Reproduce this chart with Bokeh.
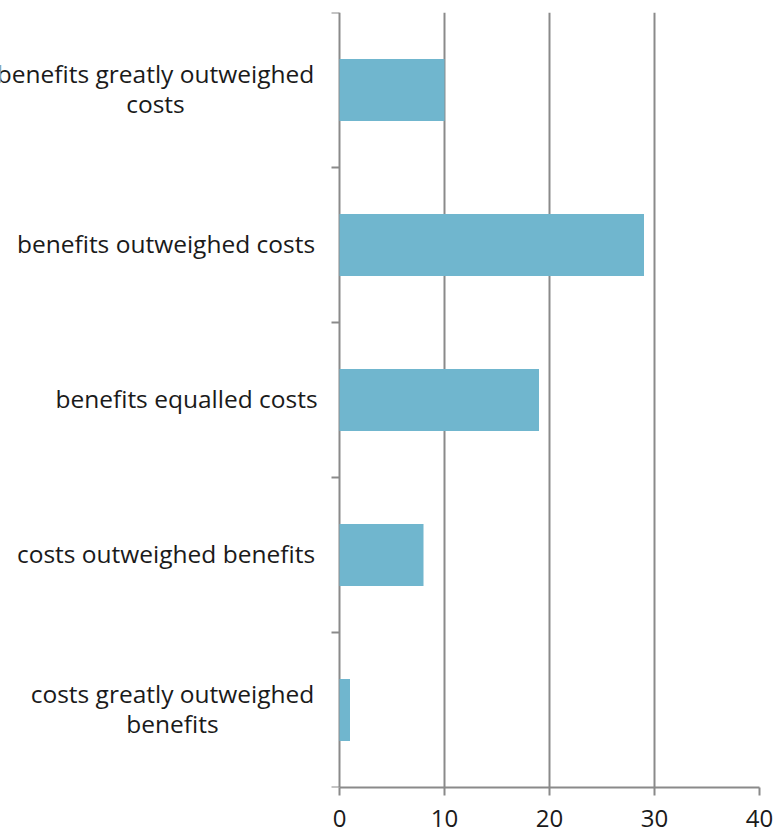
from math import pi
from bokeh.plotting import figure
from bokeh.models import FixedTicker, Range1d
from bokeh.embed import file_html
from bokeh.resources import INLINE
from bokeh.core.properties import value

# ---- data ----
categories = [
    "benefits greatly outweighed\ncosts",
    "benefits outweighed costs",
    "benefits equalled costs",
    "costs outweighed benefits",
    "costs greatly outweighed\nbenefits",
]
values = [10, 29, 19, 8, 1]
x_ticks = [0, 10, 20, 30, 40]

# ---- layout / style ----
FONT = "Open Sans"
GRAY = "#8a8a8a"
BAR = "#70b6ce"
TEXT = "#1a1a1a"
LABEL_AREA_PX = 339          # pixels left of the value axis reserved for category labels
FRAME_RIGHT_PX = 759
label_offsets_px = [-184, -173.5, -153, -173.5, -167]   # label centres relative to x=0

n = len(categories)
ys = [n - i - 0.5 for i in range(n)]
x_max = x_ticks[-1]
x_min = -x_max * LABEL_AREA_PX / (FRAME_RIGHT_PX - LABEL_AREA_PX)

p = figure(
    width=778, height=847,
    x_range=Range1d(x_min, x_max), y_range=Range1d(0, n),
    output_backend="svg", toolbar_location=None,
    min_border_left=0, min_border_right=778 - FRAME_RIGHT_PX, min_border_top=12, min_border_bottom=60,
)
p.outline_line_color = None
p.yaxis.visible = False
p.ygrid.grid_line_color = None

# vertical grid lines (the one at 0 doubles as the category axis line)
p.xgrid.ticker = FixedTicker(ticks=x_ticks)
p.xgrid.grid_line_color = GRAY
p.xgrid.grid_line_width = 2

p.hbar(y=ys, right=values, left=0, height=0.4, fill_color=BAR, line_color=None)

# category boundary tick marks
p.ray(x=[0] * (n + 1), y=list(range(n + 1)), length=8, length_units="screen",
      angle=pi, line_color=GRAY, line_width=2)

# x axis
p.xaxis.ticker = FixedTicker(ticks=x_ticks)
p.xaxis.bounds = (0, x_max)
p.xaxis.axis_line_color = GRAY
p.xaxis.axis_line_width = 2
p.xaxis.major_tick_line_color = GRAY
p.xaxis.major_tick_line_width = 2
p.xaxis.major_tick_out = 8
p.xaxis.major_tick_in = 0
p.xaxis.minor_tick_line_color = None
p.xaxis.major_label_text_font = FONT
p.xaxis.major_label_text_font_size = "24px"
p.xaxis.major_label_text_color = TEXT
p.xaxis.major_label_standoff = 14

# category labels
p.text(x=[0] * n, y=ys, text=categories, x_offset=label_offsets_px, y_offset=-1.5,
       text_align="center", text_baseline="middle",
       text_font=value(FONT), text_font_size="24.5px", text_color=TEXT,
       text_line_height=0.93)

open("out.html", "w").write(file_html(p, INLINE))
